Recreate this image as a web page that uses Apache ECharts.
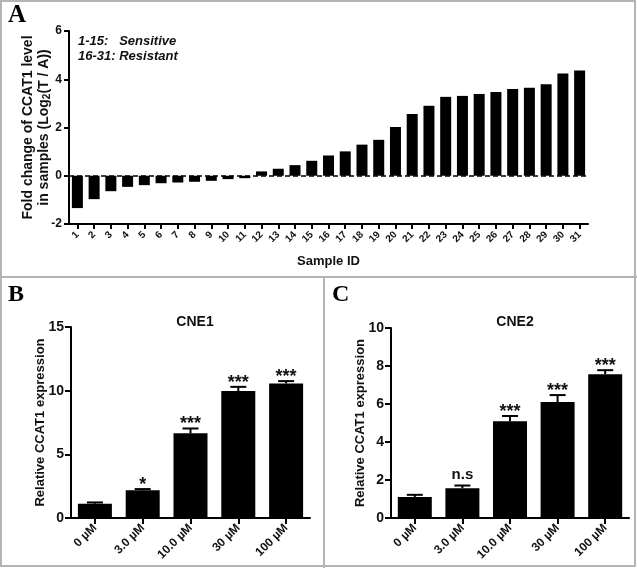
<!DOCTYPE html>
<html><head><meta charset="utf-8">
<script src="https://cdn.jsdelivr.net/npm/echarts@6/dist/echarts.min.js"></script>
<style>html,body{margin:0;padding:0;background:#fff}#c{width:637px;height:568px}</style>
</head><body><div id="c"></div>
<script>
// Panel A
const sampleIds = ['1','2','3','4','5','6','7','8','9','10','11','12','13','14','15','16','17','18','19','20','21','22','23','24','25','26','27','28','29','30','31'];
const foldChange = [-1.34,-0.97,-0.64,-0.46,-0.39,-0.31,-0.28,-0.25,-0.21,-0.14,-0.10,0.18,0.29,0.44,0.62,0.84,1.01,1.29,1.49,2.02,2.56,2.90,3.27,3.31,3.39,3.47,3.60,3.65,3.79,4.24,4.36];
const yTicksA = [-2, 0, 2, 4, 6];
// Panels B, C
const doses = ['0 \u00b5M','3.0 \u00b5M','10.0 \u00b5M','30 \u00b5M','100 \u00b5M'];
const cne1Mean = [1.12, 2.17, 6.65, 9.97, 10.57];
const cne1Err  = [0.10, 0.10, 0.38, 0.33, 0.18];
const cne1Sig  = ['', '*', '***', '***', '***'];
const cne2Mean = [1.10, 1.57, 5.09, 6.10, 7.57];
const cne2Err  = [0.12, 0.14, 0.28, 0.37, 0.21];
const cne2Sig  = ['', 'n.s', '***', '***', '***'];

const FONT = 'Arial, "Liberation Sans", sans-serif';
const chart = echarts.init(document.getElementById('c'));

function errData(mean, err){ return mean.map((m,i)=>[i, m, m+err[i]]); }
function errRender(sig){
  return function(params, api){
    const i = api.value(0), m = api.value(1), t = api.value(2);
    const p1 = api.coord([i, m]), p2 = api.coord([i, t]);
    const s = sig[params.dataIndex];
    const isStar = s.indexOf('*') >= 0;
    return {type:'group', children:[
      {type:'line', shape:{x1:p1[0],y1:p1[1],x2:p2[0],y2:p2[1]}, style:{stroke:'#000',lineWidth:2}},
      {type:'line', shape:{x1:p2[0]-8,y1:p2[1],x2:p2[0]+8,y2:p2[1]}, style:{stroke:'#000',lineWidth:2}},
      {type:'text', x:p2[0], y: p2[1] + (isStar ? 5 : -3), style:{text:s, align:'center', verticalAlign:'bottom',
        font: isStar ? 'bold 18px '+FONT : 'bold 15px '+FONT, fill:'#111'}}
    ]};
  };
}

const axisLineStyle = {lineStyle:{color:'#000', width:2}};
const tickStyle = {show:true, length:5, lineStyle:{color:'#000', width:2}};
const tickStyleBC = {show:true, length:6, lineStyle:{color:'#000', width:2}};

const option = {
  animation:false,
  backgroundColor:'#fff',
  title:[
    {text:'CNE1', left:190, top:310, textAlign:'center', textStyle:{fontFamily:FONT, fontWeight:'bold', fontSize:14, color:'#111'}},
    {text:'CNE2', left:510, top:310, textAlign:'center', textStyle:{fontFamily:FONT, fontWeight:'bold', fontSize:14, color:'#111'}}
  ],
  grid:[
    {left:69, top:31, width:519, height:193},
    {left:71, top:327, width:239, height:191},
    {left:391, top:328, width:238, height:190}
  ],
  xAxis:[
    {type:'category', gridIndex:0, data:sampleIds, axisLine:{onZero:false, ...axisLineStyle},
     axisTick:{...tickStyle, alignWithLabel:true}, axisLabel:{rotate:45, fontSize:10, fontWeight:'bold', fontFamily:FONT, color:'#111', margin:9, interval:0},
     name:'Sample ID', nameLocation:'middle', nameGap:31, nameMoveOverlap:false, nameTextStyle:{fontFamily:FONT, fontWeight:'bold', fontSize:13, color:'#111'}},
    {type:'category', gridIndex:1, data:doses, axisLine:{onZero:false, ...axisLineStyle},
     axisTick:{...tickStyleBC, alignWithLabel:true}, axisLabel:{rotate:45, fontSize:12, fontWeight:'bold', fontFamily:FONT, color:'#111', margin:8, interval:0}},
    {type:'category', gridIndex:2, data:doses, axisLine:{onZero:false, ...axisLineStyle},
     axisTick:{...tickStyleBC, alignWithLabel:true}, axisLabel:{rotate:45, fontSize:12, fontWeight:'bold', fontFamily:FONT, color:'#111', margin:8, interval:0}}
  ],
  yAxis:[
    {type:'value', gridIndex:0, min:yTicksA[0], max:yTicksA[yTicksA.length-1], interval:2,
     axisLine:{show:true, ...axisLineStyle}, axisTick:tickStyle, splitLine:{show:false},
     axisLabel:{fontSize:12, fontWeight:'bold', fontFamily:FONT, color:'#111', margin:7},
     name:'Fold change of CCAT1 level\nin samples (Log{sub|2}(T / A))', nameLocation:'middle', nameGap:17, nameRotate:90, nameMoveOverlap:false,
     nameTextStyle:{fontFamily:FONT, fontWeight:'bold', fontSize:14, color:'#111', lineHeight:16,
       rich:{sub:{fontFamily:FONT, fontWeight:'bold', fontSize:10, color:'#111', verticalAlign:'bottom', padding:[6,0,0,0]}}}},
    {type:'value', gridIndex:1, min:0, max:15, interval:5,
     axisLine:{show:true, ...axisLineStyle}, axisTick:tickStyleBC, splitLine:{show:false},
     axisLabel:{fontSize:14, fontWeight:'bold', fontFamily:FONT, color:'#111', margin:7},
     name:'Relative CCAT1 expression', nameLocation:'middle', nameGap:24, nameRotate:90, nameMoveOverlap:false,
     nameTextStyle:{fontFamily:FONT, fontWeight:'bold', fontSize:13, color:'#111'}},
    {type:'value', gridIndex:2, min:0, max:10, interval:2,
     axisLine:{show:true, ...axisLineStyle}, axisTick:tickStyleBC, splitLine:{show:false},
     axisLabel:{fontSize:14, fontWeight:'bold', fontFamily:FONT, color:'#111', margin:7},
     name:'Relative CCAT1 expression', nameLocation:'middle', nameGap:24, nameRotate:90, nameMoveOverlap:false,
     nameTextStyle:{fontFamily:FONT, fontWeight:'bold', fontSize:13, color:'#111'}}
  ],
  series:[
    {type:'bar', xAxisIndex:0, yAxisIndex:0, data:foldChange, barWidth:11, itemStyle:{color:'#000'},
     markLine:{silent:true, symbol:'none', label:{show:false}, lineStyle:{color:'#000', type:[5,3], width:1.5},
       data:[{yAxis:0}]}},
    {type:'bar', xAxisIndex:1, yAxisIndex:1, data:cne1Mean, barWidth:34, itemStyle:{color:'#000'}},
    {type:'custom', xAxisIndex:1, yAxisIndex:1, data:errData(cne1Mean, cne1Err), renderItem:errRender(cne1Sig), z:5},
    {type:'bar', xAxisIndex:2, yAxisIndex:2, data:cne2Mean, barWidth:34, itemStyle:{color:'#000'}},
    {type:'custom', xAxisIndex:2, yAxisIndex:2, data:errData(cne2Mean, cne2Err), renderItem:errRender(cne2Sig), z:5}
  ],
  graphic:[
    {type:'rect', shape:{x:1, y:1, width:634, height:565}, style:{fill:null, stroke:'#b4b4b4', lineWidth:2}, silent:true},
    {type:'line', shape:{x1:0, y1:277, x2:637, y2:277}, style:{stroke:'#b4b4b4', lineWidth:2}, silent:true},
    {type:'line', shape:{x1:324, y1:277, x2:324, y2:568}, style:{stroke:'#b4b4b4', lineWidth:2}, silent:true},
    {type:'text', left:8, top:3, style:{text:'A', font:'bold 25px "Liberation Serif", "Times New Roman", serif', fill:'#000'}},
    {type:'text', left:8, top:283, style:{text:'B', font:'bold 24px "Liberation Serif", "Times New Roman", serif', fill:'#000'}},
    {type:'text', left:332, top:283, style:{text:'C', font:'bold 24px "Liberation Serif", "Times New Roman", serif', fill:'#000'}},
    {type:'text', left:78, top:34, style:{text:'1-15:   Sensitive\n16-31: Resistant', font:'italic bold 13px '+FONT, lineHeight:15, fill:'#111'}}
  ]
};
chart.setOption(option);
</script></body></html>
